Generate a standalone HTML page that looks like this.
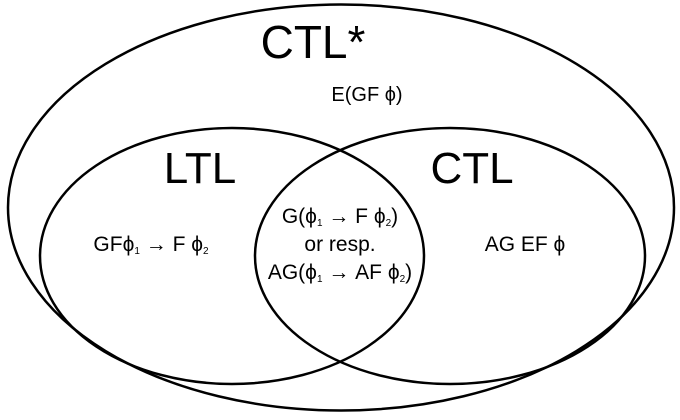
<!DOCTYPE html>
<html><head><style>body{margin:0;background:#fff}</style></head><body>
<svg width="680" height="415" xmlns="http://www.w3.org/2000/svg" font-family="Liberation Sans, Arial, sans-serif" fill="#000">
<rect width="680" height="415" fill="#fff"/>
<g fill="none" stroke="#000" stroke-width="2.5">
<ellipse cx="341" cy="207.5" rx="333" ry="203"/>
<ellipse cx="232" cy="256" rx="192" ry="128"/>
<ellipse cx="450" cy="256" rx="195" ry="128"/>
</g>
<text x="313" y="58" font-size="46" text-anchor="middle">CTL*</text>
<text x="200" y="183" font-size="44" text-anchor="middle">LTL</text>
<text x="472" y="183" font-size="44" text-anchor="middle">CTL</text>
<text x="367" y="101" font-size="20" text-anchor="middle">E(GF ϕ)</text>
<text x="151" y="251" font-size="21" text-anchor="middle">GFϕ<tspan font-size="10" dy="3">1</tspan><tspan dy="-3"> → F ϕ</tspan><tspan font-size="10" dy="3">2</tspan></text>
<text x="340" y="223" font-size="21" text-anchor="middle">G(ϕ<tspan font-size="10" dy="3">1</tspan><tspan dy="-3"> → F ϕ</tspan><tspan font-size="10" dy="3">2</tspan><tspan dy="-3">)</tspan></text>
<text x="340" y="251" font-size="21" text-anchor="middle">or resp.</text>
<text x="340" y="279" font-size="21" text-anchor="middle">AG(ϕ<tspan font-size="10" dy="3">1</tspan><tspan dy="-3"> → AF ϕ</tspan><tspan font-size="10" dy="3">2</tspan><tspan dy="-3">)</tspan></text>
<text x="525" y="251" font-size="21" text-anchor="middle">AG EF ϕ</text>
</svg>
</body></html>
